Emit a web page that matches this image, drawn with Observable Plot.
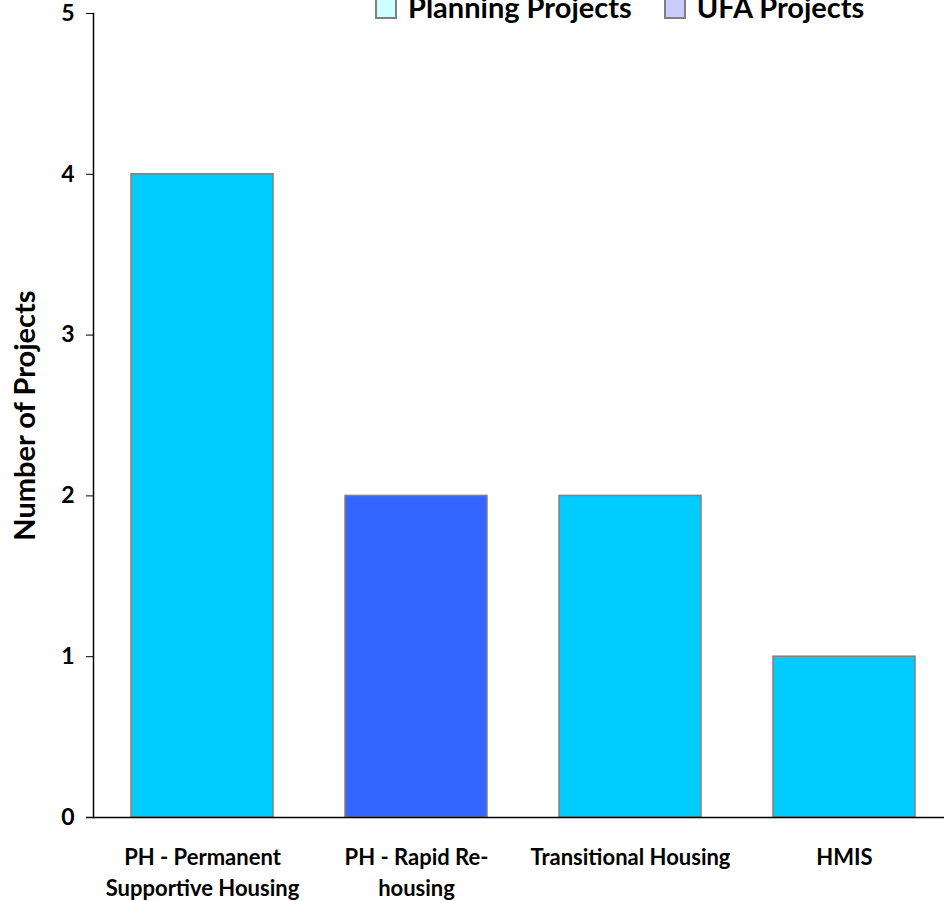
<!DOCTYPE html>
<html><head><meta charset="utf-8">
<script src="https://cdn.jsdelivr.net/npm/d3@7"></script>
<script src="https://cdn.jsdelivr.net/npm/@observablehq/plot@0.6"></script>
<style>
body{margin:0;background:#fff;}
#wrap{position:relative;width:944px;height:901px;overflow:hidden;font-family:Lato,"Open Sans",sans-serif;}
#legend{position:absolute;left:375px;top:-11px;display:flex;align-items:center;font-weight:bold;font-size:29px;color:#000;white-space:nowrap;z-index:2;}
.sw{width:22px;height:22px;border:2px solid #808080;box-sizing:border-box;margin-right:11px;margin-top:2px;}
.item{display:flex;align-items:center;margin-right:32px;}
</style></head><body>
<div id="wrap"><div id="legend"></div></div>
<script>
const categories = ["PH - Permanent Supportive Housing", "PH - Rapid Re-housing", "Transitional Housing", "HMIS"];
const labels = ["PH - Permanent\nSupportive Housing", "PH - Rapid Re-\nhousing", "Transitional Housing", "HMIS"];
const values = [4, 2, 2, 1];
const groups = ["Planning Projects", "UFA Projects", "Planning Projects", "Planning Projects"];
const legendItems = ["Planning Projects", "UFA Projects"];
const legendColors = ["#ccffff", "#ccccff"];
const barColors = ["#00ccff", "#3366ff"];
const yTicks = [0, 1, 2, 3, 4, 5];

const data = categories.map((c, i) => ({category: c, value: values[i], group: groups[i]}));
const font = "Lato, 'Open Sans', sans-serif";

const chart = Plot.plot({
  width: 944, height: 901,
  marginLeft: 93, marginTop: 13, marginBottom: 84, marginRight: 0,
  style: {fontFamily: font, fontWeight: "bold", fontSize: "22px", color: "#000", background: "#fff", overflow: "visible"},
  x: {domain: categories, range: [95, 951], paddingInner: 0.336, paddingOuter: 0.168},
  y: {domain: [0, 5]},
  color: {domain: legendItems, range: barColors},
  marks: [
    Plot.barY(data, {x: "category", y: "value", fill: "group", stroke: "#808080", strokeWidth: 1.5}),
    Plot.ruleY([0], {stroke: "#000", strokeWidth: 1.5, insetLeft: -7}),
    Plot.frame({anchor: "left", stroke: "#000", strokeWidth: 1.5}),
    Plot.axisY(yTicks, {tickSize: 7, tickPadding: 12, fontSize: 23, fontWeight: "bold", tickFormat: d3.format("d"),
      label: null}),
    Plot.axisY({ticks: [], label: "Number of Projects", labelAnchor: "center", labelOffset: 79, labelArrow: "none",
      fontSize: 29, fontWeight: "bold", tickSize: 0}),
    Plot.axisX({tickSize: 0, tickPadding: 25, fontSize: 22, fontWeight: "bold", lineHeight: 1.42,
      tickFormat: d => labels[categories.indexOf(d)], label: null})
  ]
});
document.getElementById("wrap").appendChild(chart);

const legend = document.getElementById("legend");
legendItems.forEach((name, i) => {
  const item = document.createElement("div");
  item.className = "item";
  const sw = document.createElement("div");
  sw.className = "sw";
  sw.style.background = legendColors[i];
  const t = document.createElement("span");
  t.textContent = name;
  item.appendChild(sw); item.appendChild(t);
  legend.appendChild(item);
});
</script>
</body></html>
